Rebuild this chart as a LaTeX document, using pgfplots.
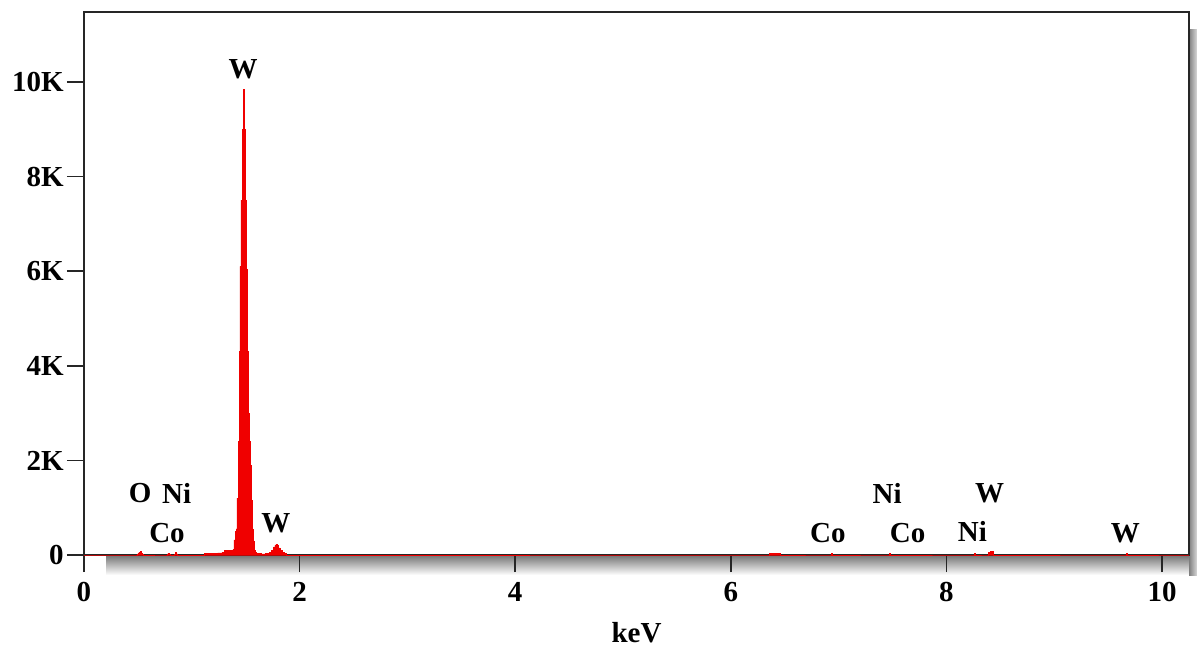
\documentclass[border=0pt]{standalone}
\usepackage{fontspec}
\setmainfont{Liberation Serif}
\usepackage{pgfplots}
\pgfplotsset{compat=1.18}
\definecolor{specred}{RGB}{240,0,0}
\begin{document}
\fontsize{14.5}{17}\selectfont\bfseries
\begin{tikzpicture}
% drop shadow of the axis box
\shade[top color=black!55, bottom color=white] (11pt,0pt) rectangle (556.5pt,-10pt);
\shade[left color=black!50, right color=black!15] (552.5pt,-10pt) rectangle (556.5pt,262.5pt);
\begin{axis}[
  scale only axis,
  width=552.5pt, height=271.5pt,
  at={(0,0)}, anchor=south west,
  xmin=0, xmax=10.25, ymin=0, ymax=11480,
  axis line style={black!85, line width=1pt},
  tick style={black!85, line width=0.8pt},
  tick align=outside, major tick length=8.5pt,
  xtick pos=left, ytick pos=left,
  xtick={0,2,4,6,8,10}, xticklabels={0,2,4,6,8,10},
  ytick={0,2000,4000,6000,8000,10000}, yticklabels={0,2K,4K,6K,8K,10K},
  tick label style={font=\fontsize{14.5}{17}\selectfont\bfseries},
  yticklabel style={inner xsep=1.5pt},
  xlabel={keV},
  xlabel style={at={(axis description cs:0.5,0)}, anchor=center, yshift=-39pt, font=\fontsize{14.5}{17}\selectfont\bfseries},
  clip=false,
]
\addplot[const plot, fill=specred, draw=specred, line width=0.3pt] coordinates {
(0.00,0) (0.48,0) (0.49,12) (0.50,35) (0.51,60) (0.52,70) (0.53,40) (0.54,12) (0.55,0)
(0.76,0) (0.77,25) (0.78,40) (0.79,20) (0.80,0)
(0.84,20) (0.85,50) (0.86,25) (0.87,0)
(1.12,30) (1.16,40) (1.20,35) (1.24,45) (1.28,50) (1.30,90) (1.34,95)
(1.373,50) (1.382,120) (1.391,320) (1.401,500) (1.410,550) (1.419,1200)
(1.429,2400) (1.438,4300) (1.447,6100) (1.456,7500) (1.466,9000) (1.475,9850)
(1.484,9000) (1.494,7500) (1.503,6050) (1.512,4300) (1.521,3000) (1.531,2400)
(1.540,1900) (1.549,1160) (1.558,550) (1.568,300) (1.577,100) (1.586,50)
(1.60,30) (1.64,25) (1.68,30) (1.70,40) (1.72,60) (1.74,100) (1.76,170)
(1.77,210) (1.78,230) (1.79,200) (1.80,150) (1.82,100) (1.84,60) (1.86,30) (1.88,0)
(6.35,0) (6.36,40) (6.46,0)
(6.92,0) (6.93,30) (6.94,0)
(7.46,0) (7.47,30) (7.48,0)
(8.25,0) (8.26,35) (8.27,0)
(8.38,0) (8.39,60) (8.41,80) (8.43,0)
(9.66,0) (9.67,30) (9.68,0)
(10.25,0)
} \closedcycle;
\node[anchor=center] at (axis cs:1.475,10280) {W};
\node[anchor=center] at (axis cs:0.52,1300) {O};
\node[anchor=center] at (axis cs:0.86,1300) {Ni};
\node[anchor=center] at (axis cs:0.77,470) {Co};
\node[anchor=center] at (axis cs:1.78,680) {W};
\node[anchor=center] at (axis cs:6.90,470) {Co};
\node[anchor=center] at (axis cs:7.45,1300) {Ni};
\node[anchor=center] at (axis cs:7.64,470) {Co};
\node[anchor=center] at (axis cs:8.24,500) {Ni};
\node[anchor=center] at (axis cs:8.40,1300) {W};
\node[anchor=center] at (axis cs:9.66,470) {W};
\end{axis}
\pgfresetboundingbox
\path[use as bounding box] (-42pt,-46.5pt) rectangle (556.5pt,277.5pt);
\end{tikzpicture}
\end{document}
